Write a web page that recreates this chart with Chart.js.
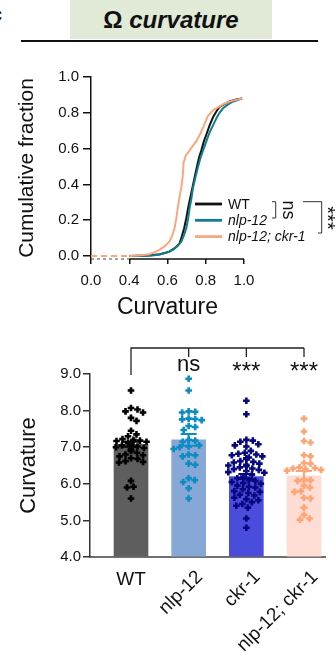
<!DOCTYPE html>
<html>
<head>
<meta charset="utf-8">
<script src="https://cdn.jsdelivr.net/npm/chart.js@4.4.1/dist/chart.umd.min.js"></script>
<style>
  body { margin: 0; background: #fff; width: 336px; height: 661px; overflow: hidden; position: relative;
         font-family: "Liberation Sans", Arial, sans-serif; }
  #panel { position: absolute; left: -9px; top: 3px; font-weight: bold; font-size: 20px; color: #111; }
  #title { position: absolute; left: 70px; top: 0; width: 202px; height: 39px; background: #e0ead6;
           text-align: center; font-weight: bold; font-size: 24px; line-height: 40px; color: #111; }
  #rule { position: absolute; left: 21px; top: 40px; width: 297px; height: 2px; background: #111; }
  .wrap { position: absolute; left: 0; width: 336px; }
</style>
</head>
<body>
<div id="panel">c</div>
<div id="title">Ω <i>curvature</i></div>
<div id="rule"></div>
<div class="wrap" style="top:60px;height:270px"><canvas id="cdf"></canvas></div>
<div class="wrap" style="top:330px;height:331px"><canvas id="bars"></canvas></div>
<script>
// ---- cumulative fraction curves ----
const cdfLabels = ['WT', 'nlp-12', 'nlp-12; ckr-1'];
const wtCurveX  = [0.40, 0.50, 0.56, 0.61, 0.64, 0.663, 0.675, 0.687, 0.698, 0.708, 0.72, 0.73, 0.742, 0.754, 0.765, 0.777, 0.79, 0.807, 0.82, 0.84, 0.857, 0.874, 0.90, 0.926, 0.96, 0.99];
const wtCurveY  = [0, 0.003, 0.01, 0.024, 0.045, 0.07, 0.11, 0.155, 0.21, 0.27, 0.33, 0.38, 0.44, 0.50, 0.55, 0.59, 0.64, 0.69, 0.73, 0.78, 0.81, 0.835, 0.85, 0.865, 0.875, 0.88];
const nlpCurveX = [0.40, 0.52, 0.56, 0.60, 0.628, 0.652, 0.672, 0.686, 0.698, 0.708, 0.716, 0.725, 0.733, 0.746, 0.76, 0.773, 0.786, 0.803, 0.82, 0.838, 0.856, 0.872, 0.89, 0.915, 0.94, 0.97, 0.99];
const nlpCurveY = [0, 0.002, 0.008, 0.02, 0.034, 0.055, 0.08, 0.115, 0.155, 0.21, 0.27, 0.32, 0.38, 0.44, 0.50, 0.55, 0.59, 0.64, 0.69, 0.73, 0.77, 0.80, 0.825, 0.845, 0.862, 0.872, 0.88];
const dblCurveX = [0.0, 0.40, 0.45, 0.505, 0.53, 0.558, 0.585, 0.61, 0.625, 0.637, 0.646, 0.654, 0.663, 0.672, 0.68, 0.684, 0.695, 0.716, 0.735, 0.75, 0.77, 0.787, 0.81, 0.84, 0.87, 0.905, 0.94, 0.97, 0.99];
const dblCurveY = [0, 0, 0.002, 0.01, 0.02, 0.034, 0.055, 0.08, 0.115, 0.155, 0.21, 0.27, 0.33, 0.38, 0.45, 0.52, 0.56, 0.59, 0.62, 0.64, 0.68, 0.72, 0.78, 0.815, 0.835, 0.855, 0.868, 0.875, 0.88];
const cdfXTicks = [0.0, 0.4, 0.6, 0.8, 1.0];
const cdfYTicks = [0.0, 0.2, 0.4, 0.6, 0.8, 1.0];

// ---- bar chart ----
const groups = ['WT', 'nlp-12', 'ckr-1', 'nlp-12; ckr-1'];
const means  = [7.08, 7.20, 6.20, 6.22];
const sems   = [0.07, 0.16, 0.07, 0.13];
const wtVals  = [8.55, 8.07, 8.03, 7.98, 7.95, 7.80, 7.72, 7.45, 7.35, 7.30, 7.22, 7.20, 7.18, 7.17, 7.15, 7.12, 7.10, 7.10, 7.08, 7.05, 7.05, 7.02, 7.00, 6.98, 6.95, 6.92, 6.90, 6.85, 6.80, 6.78, 6.75, 6.70, 6.68, 6.62, 6.60, 6.58, 6.08, 5.92, 5.90, 5.60];
const nlpVals = [8.87, 8.55, 7.98, 7.97, 7.95, 7.78, 7.77, 7.76, 7.74, 7.58, 7.55, 7.47, 7.20, 7.18, 7.15, 7.05, 7.02, 7.00, 6.95, 6.80, 6.78, 6.75, 6.55, 6.52, 6.15, 6.10, 6.05, 5.88, 5.60];
const ckrVals = [8.27, 7.90, 7.20, 7.18, 7.15, 7.08, 7.05, 7.02, 6.90, 6.85, 6.82, 6.80, 6.78, 6.75, 6.72, 6.70, 6.68, 6.62, 6.60, 6.58, 6.55, 6.52, 6.50, 6.48, 6.45, 6.42, 6.40, 6.38, 6.35, 6.32, 6.30, 6.25, 6.20, 6.15, 6.10, 6.08, 6.05, 6.02, 6.00, 5.95, 5.92, 5.90, 5.85, 5.80, 5.78, 5.75, 5.70, 5.68, 5.62, 5.58, 5.55, 5.50, 5.45, 5.40, 5.35, 5.05, 4.80];
const dblVals = [7.78, 7.43, 7.17, 7.13, 6.78, 6.75, 6.57, 6.55, 6.45, 6.43, 6.42, 6.40, 6.38, 6.36, 6.12, 6.10, 6.08, 5.95, 5.90, 5.80, 5.78, 5.62, 5.60, 5.35, 5.15, 5.05, 5.02];
const barYTicks = [4, 5, 6, 7, 8, 9];
const sigLabels = ['', 'ns', '***', '***'];

const FONT = '"Liberation Sans", Arial, sans-serif';
Chart.defaults.font.family = FONT;
Chart.defaults.color = '#111';

// x axis of the cumulative plot is broken between 0 and 0.4
const brk = v => v < 0.4 ? 0.2 + v / 2 : v;
const unbrk = a => a < 0.399 ? (a - 0.2) * 2 : a;
const curve = (xs, ys) => xs.map((v, i) => ({ x: brk(v), y: ys[i] }));
const dashFirst = { borderDash: c => c.p1.parsed.x <= 0.4001 ? [6, 4] : undefined };

const cdfExtras = {
  id: 'cdfExtras',
  afterDraw(chart) {
    const { ctx, chartArea, scales: { x } } = chart;
    const y0 = chartArea.bottom;
    ctx.save();
    ctx.strokeStyle = '#666'; ctx.lineWidth = 1.2; ctx.setLineDash([3, 3]);
    ctx.beginPath(); ctx.moveTo(x.getPixelForValue(brk(0)), y0); ctx.lineTo(x.getPixelForValue(0.4), y0); ctx.stroke();
    ctx.setLineDash([]); ctx.strokeStyle = '#111'; ctx.lineWidth = 1.5;
    ctx.beginPath(); ctx.moveTo(x.getPixelForValue(0.4), y0); ctx.lineTo(x.getPixelForValue(1.0), y0); ctx.stroke();

    // legend
    chart.data.datasets.forEach((ds, i) => {
      const ly = 144 + i * 16.3;
      ctx.strokeStyle = ds.borderColor; ctx.lineWidth = 2.8;
      ctx.beginPath(); ctx.moveTo(195, ly); ctx.lineTo(222, ly); ctx.stroke();
      ctx.fillStyle = '#111';
      ctx.font = (i ? 'italic ' : '') + '14px ' + FONT;
      ctx.textBaseline = 'middle'; ctx.textAlign = 'left';
      ctx.fillText(ds.label, 228, ly + 1);
    });

    // brackets
    ctx.strokeStyle = '#333'; ctx.lineWidth = 1;
    ctx.beginPath();
    ctx.moveTo(272, 141.7); ctx.lineTo(275.7, 141.7); ctx.lineTo(275.7, 158); ctx.lineTo(272, 158);
    ctx.moveTo(303, 141.7); ctx.lineTo(321.7, 141.7); ctx.lineTo(321.7, 173); ctx.lineTo(318, 173);
    ctx.stroke();
    ctx.fillStyle = '#111'; ctx.textAlign = 'center'; ctx.textBaseline = 'middle';
    ctx.save(); ctx.translate(288, 150); ctx.rotate(Math.PI / 2);
    ctx.font = '18px ' + FONT; ctx.fillText('ns', 0, 0); ctx.restore();
    ctx.save(); ctx.translate(331, 158); ctx.rotate(Math.PI / 2);
    ctx.font = '20px ' + FONT; ctx.fillText('***', 0, 4); ctx.restore();
    ctx.restore();
  }
};

new Chart(document.getElementById('cdf'), {
  type: 'line',
  data: {
    datasets: [
      { label: cdfLabels[0], data: curve(wtCurveX, wtCurveY), borderColor: '#111111', order: 2 },
      { label: cdfLabels[1], data: curve(nlpCurveX, nlpCurveY), borderColor: '#0f7d8c', order: 1 },
      { label: cdfLabels[2], data: curve(dblCurveX, dblCurveY), borderColor: '#fba67c', order: 0, segment: dashFirst }
    ]
  },
  options: {
    responsive: true, maintainAspectRatio: false, animation: false,
    layout: { padding: { top: 17, right: 92, left: 0, bottom: 0 } },
    elements: { point: { radius: 0 }, line: { borderWidth: 2, tension: 0 } },
    plugins: { legend: { display: false }, tooltip: { enabled: false } },
    scales: {
      x: {
        type: 'linear', min: 0.2, max: 1.0,
        afterBuildTicks: s => { s.ticks = cdfXTicks.map(v => ({ value: brk(v) })); },
        afterFit: s => { s.height = 71; },
        border: { display: false },
        grid: { drawOnChartArea: false, tickLength: 5, color: '#111', lineWidth: 1.5 },
        ticks: { padding: 8, font: { size: 15 }, color: '#111', maxRotation: 0,
                 callback: v => unbrk(v).toFixed(1) },
        title: { display: true, text: 'Curvature', font: { size: 23 }, color: '#111', padding: { top: 0, bottom: 9 } }
      },
      y: {
        min: -0.017, max: 1.0,
        afterBuildTicks: s => { s.ticks = cdfYTicks.map(v => ({ value: v })); },
        afterFit: s => { s.width = 91; },
        border: { color: '#111', width: 1.5 },
        grid: { drawOnChartArea: false, tickLength: 8, color: '#111', lineWidth: 1.5 },
        ticks: { padding: 4, font: { size: 15 }, color: '#111', callback: v => v.toFixed(1) },
        title: { display: true, text: 'Cumulative fraction', font: { size: 21 }, color: '#111', padding: { top: 15, bottom: 0 } }
      }
    }
  },
  plugins: [cdfExtras]
});

// ---- scatter points spread as a swarm so they do not overlap ----
const PX_X = 57.67, PX_Y = 36.5, GAP = 6.2;
function swarm(vals, gi) {
  const placed = [];
  const fits = (dx, py) => placed.every(p => Math.hypot(p.dx - dx, p.py - py) >= GAP);
  return [...vals].sort((a, b) => b - a).map(v => {
    const py = v * PX_Y;
    let dx = 0;
    for (let s = 0; s <= 18; s += 0.5) {
      if (fits(s, py)) { dx = s; break; }
      if (fits(-s, py)) { dx = -s; break; }
    }
    placed.push({ dx, py });
    return { x: gi + dx / PX_X, y: v };
  });
}

const barFill = ['#5e5e5e', '#87a7d6', '#4a4ddb', '#ffdcd4'];
const dotColor = ['#000000', '#0b8cc2', '#07077f', '#ffa475'];
const pointSets = [wtVals, nlpVals, ckrVals, dblVals];

const barExtras = {
  id: 'barExtras',
  afterDatasetsDraw(chart) {
    const { ctx, scales: { x, y } } = chart;
    ctx.save();
    // error bars (mean ± SEM)
    means.forEach((m, i) => {
      const cx = x.getPixelForValue(i);
      const t = y.getPixelForValue(m + sems[i]), b = y.getPixelForValue(m - sems[i]);
      ctx.strokeStyle = dotColor[i]; ctx.lineWidth = 2;
      ctx.beginPath();
      ctx.moveTo(cx, t); ctx.lineTo(cx, b);
      ctx.moveTo(cx - 8, t); ctx.lineTo(cx + 8, t);
      ctx.moveTo(cx - 8, b); ctx.lineTo(cx + 8, b);
      ctx.stroke();
    });
    // significance bracket
    const xs = groups.map((g, i) => x.getPixelForValue(i));
    ctx.strokeStyle = '#222'; ctx.lineWidth = 1.3;
    ctx.beginPath();
    ctx.moveTo(xs[0], 45); ctx.lineTo(xs[0], 18); ctx.lineTo(xs[3], 18);
    for (let i = 1; i < 4; i++) { ctx.moveTo(xs[i], 18); ctx.lineTo(xs[i], 27); }
    ctx.stroke();
    ctx.fillStyle = '#111'; ctx.textAlign = 'center'; ctx.textBaseline = 'middle';
    sigLabels.forEach((s, i) => {
      if (!s) return;
      ctx.font = (s === 'ns' ? '22px ' : '24px ') + FONT;
      ctx.fillText(s, xs[i], s === 'ns' ? 35 : 42);
    });
    // category labels
    ctx.font = '19px ' + FONT;
    groups.forEach((g, i) => {
      if (i === 0) { ctx.textAlign = 'center'; ctx.fillText(g, xs[i], 250); return; }
      ctx.save(); ctx.translate(xs[i] + 11, 244); ctx.rotate(-Math.PI / 4);
      ctx.textAlign = 'right'; ctx.fillText(g, 0, 0); ctx.restore();
    });
    ctx.restore();
  }
};

new Chart(document.getElementById('bars'), {
  type: 'bar',
  data: {
    datasets: [
      { type: 'bar', data: means.map((m, i) => ({ x: i, y: m })), backgroundColor: barFill,
        barThickness: 34, base: 4, order: 2 },
      ...pointSets.map((vals, i) => ({
        type: 'scatter', data: swarm(vals, i), pointStyle: 'cross', pointRadius: 3.3, pointBorderWidth: 2.6,
        pointBorderColor: dotColor[i], pointBackgroundColor: dotColor[i], order: 1
      }))
    ]
  },
  options: {
    responsive: true, maintainAspectRatio: false, animation: false,
    layout: { padding: { top: 44, right: 11, left: 0, bottom: 0 } },
    plugins: { legend: { display: false }, tooltip: { enabled: false } },
    scales: {
      x: {
        type: 'linear', min: -0.711, max: 3.364, offset: false,
        afterFit: s => { s.height = 104; },
        border: { color: '#6f6f6f', width: 2 },
        grid: { display: false },
        ticks: { display: false }
      },
      y: {
        min: 4, max: 9,
        afterBuildTicks: s => { s.ticks = barYTicks.map(v => ({ value: v })); },
        afterFit: s => { s.width = 90; },
        border: { color: '#333', width: 1.5 },
        grid: { drawOnChartArea: false, tickLength: 7, color: '#333', lineWidth: 1.5 },
        ticks: { padding: 2, font: { size: 15 }, color: '#111', callback: v => v.toFixed(1) },
        title: { display: true, text: 'Curvature', font: { size: 22 }, color: '#111', padding: { top: 16, bottom: 0 } }
      }
    }
  },
  plugins: [barExtras]
});
</script>
</body>
</html>
